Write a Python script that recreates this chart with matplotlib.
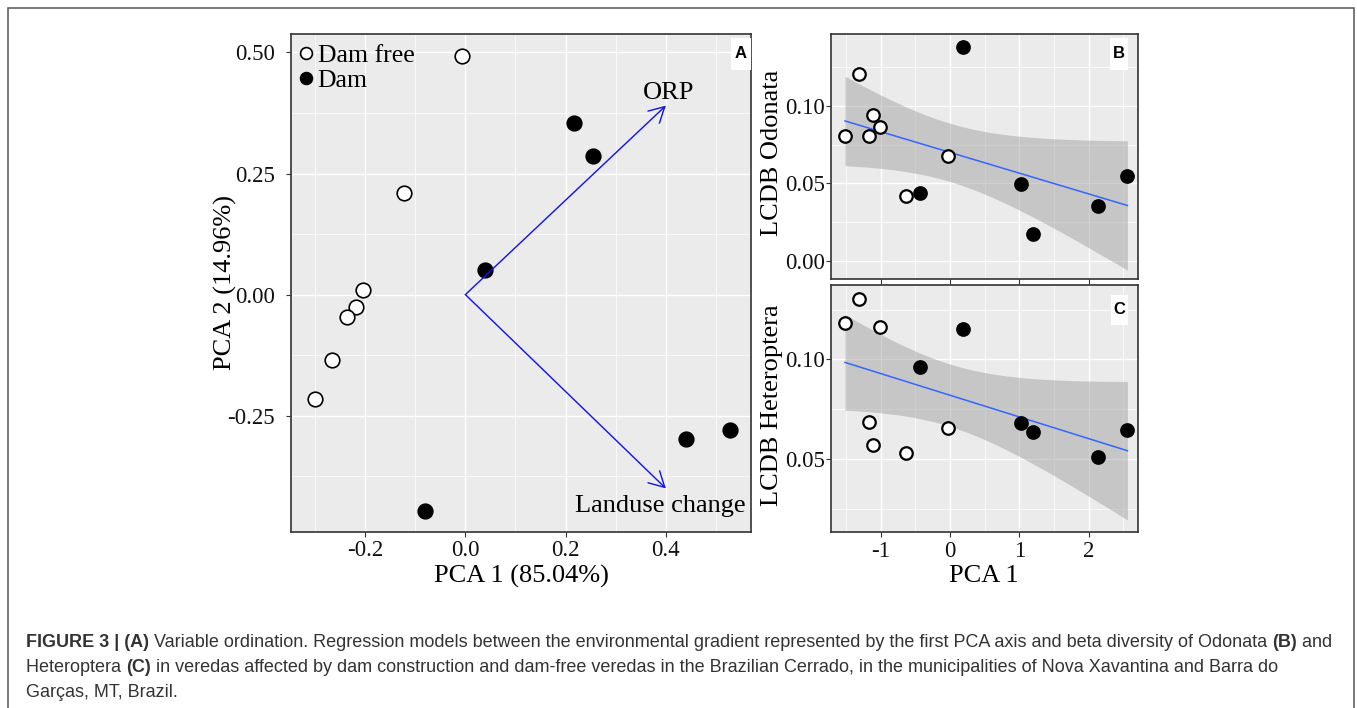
import numpy as np
import matplotlib
matplotlib.use('Agg')
import matplotlib.pyplot as plt
from matplotlib.patches import Rectangle
from matplotlib.lines import Line2D

plt.rcParams['font.family'] = ['Liberation Serif', 'DejaVu Serif']
plt.rcParams['axes.unicode_minus'] = False

# ---- panel A: PCA scores of the sites and the two variable vectors
a_free_x = [-0.006, -0.122, -0.205, -0.218, -0.236, -0.267, -0.301]
a_free_y = [0.493, 0.2105, 0.010, -0.026, -0.047, -0.134, -0.216]
a_dam_x = [0.0385, 0.217, 0.255, 0.441, 0.529, -0.081]
a_dam_y = [0.051, 0.355, 0.286, -0.299, -0.280, -0.447]
vec_names = ['ORP', 'Landuse change']
vec_x = [0.4, 0.4]
vec_y = [0.39, -0.40]

# ---- panels B and C: PCA 1 vs LCDB
free_pca1 = [-1.515, -1.306, -1.166, -1.116, -1.005, -0.632, -0.034]
dam_pca1 = [-0.433, 0.183, 1.025, 1.200, 2.130, 2.560]
odo_free = [0.0806, 0.1205, 0.0806, 0.0940, 0.0866, 0.0420, 0.0679]
odo_dam = [0.0436, 0.1383, 0.0498, 0.0173, 0.0354, 0.0549]
het_free = [0.1180, 0.1302, 0.0686, 0.0569, 0.1163, 0.0532, 0.0657]
het_dam = [0.0963, 0.1150, 0.0682, 0.0634, 0.0509, 0.0645]

W, H = 1357, 708
fig = plt.figure(figsize=(W / 100, H / 100), dpi=100)


def box(l, t, r, b):
    # pixel box -> figure fraction rect
    return [l / W, 1 - b / H, (r - l) / W, (b - t) / H]


def ggstyle(ax):
    ax.set_facecolor('#EBEBEB')
    ax.grid(True, which='major', color='white', lw=1.0)
    ax.grid(True, which='minor', color='white', lw=0.5)
    ax.set_axisbelow(True)
    for s in ax.spines.values():
        s.set_color('#333333')
        s.set_linewidth(1.2)
    ax.tick_params(which='minor', length=0)
    ax.tick_params(which='major', colors='#333333', labelcolor='#111111',
                   length=3.5, width=0.8)


def lm_band(x, y, t=2.201):
    # ordinary least squares fit with 95% confidence band (df = n - 2)
    x = np.asarray(x)
    y = np.asarray(y)
    b1, b0 = np.polyfit(x, y, 1)
    s = np.sqrt(np.sum((y - b0 - b1 * x) ** 2) / (len(x) - 2))
    xx = np.linspace(x.min(), x.max(), 100)
    se = s * np.sqrt(1 / len(x) + (xx - x.mean()) ** 2 / np.sum((x - x.mean()) ** 2))
    fit = b0 + b1 * xx
    return xx, fit, fit - t * se, fit + t * se


def panel_tag(ax, letter, x0, y0, x1, y1):
    ax.add_patch(Rectangle((x0, y0), x1 - x0, y1 - y0, transform=ax.transAxes,
                           fc='white', ec='none', zorder=5, clip_on=False))
    ax.text((x0 + x1) / 2, (y0 + y1) / 2, letter, transform=ax.transAxes,
            ha='center', va='center', fontsize=12, fontweight='bold',
            family='Liberation Sans', zorder=6)


# ---------------- A
axA = fig.add_axes(box(291, 34, 751, 532))
ggstyle(axA)
axA.set_xlim(-0.348, 0.570)
axA.set_ylim(-0.490, 0.538)
axA.set_xticks([-0.2, 0.0, 0.2, 0.4], ['-0.2', '0.0', '0.2', '0.4'])
axA.set_xticks([-0.3, -0.1, 0.1, 0.3, 0.5], minor=True)
axA.set_yticks([-0.25, 0.0, 0.25, 0.5], ['-0.25', '0.00', '0.25', '0.50'])
axA.set_yticks([-0.375, -0.125, 0.125, 0.375], minor=True)
axA.tick_params(axis='both', which='major', labelsize=16.5)
axA.tick_params(axis='y', pad=8)
axA.tick_params(axis='x', pad=2)

axA.plot(a_free_x, a_free_y, 'o', ms=10.5, mfc='white', mec='black', mew=1.2,
         ls='none', zorder=3)
axA.plot(a_dam_x, a_dam_y, 'o', ms=10.5, mfc='black', mec='black', mew=1.2,
         ls='none', zorder=3)
for name, vx, vy in zip(vec_names, vec_x, vec_y):
    axA.annotate('', xy=(vx, vy), xytext=(0, 0),
                 arrowprops=dict(arrowstyle='->,head_length=0.55,head_width=0.3',
                                 color='#1010EE', lw=1.0, mutation_scale=20,
                                 shrinkA=0, shrinkB=0))
axA.text(vec_x[0] + 0.005, vec_y[0] + 0.026, vec_names[0], ha='center', va='center',
         fontsize=19)
axA.text(vec_x[1] - 0.011, vec_y[1] - 0.036, vec_names[1], ha='center', va='center',
         fontsize=19)

handles = [Line2D([], [], marker='o', ls='none', ms=8.5, mfc='white', mec='black', mew=1.2),
           Line2D([], [], marker='o', ls='none', ms=8.5, mfc='black', mec='black', mew=1.2)]
axA.legend(handles, ['Dam free', 'Dam'], loc='upper left', bbox_to_anchor=(0.016, 0.979),
           frameon=False, fontsize=18.5, handlelength=0.6, handletextpad=0.15,
           borderpad=0, borderaxespad=0, labelspacing=0.07)
panel_tag(axA, 'A', 0.9565, 0.928, 1.0, 0.992)

fig.text(225 / W, 1 - 283 / H, 'PCA 2 (14.96%)', rotation=90, ha='center',
         va='center', fontsize=19)
fig.text(521 / W, 1 - 576 / H, 'PCA 1 (85.04%)', ha='center', va='center',
         fontsize=19)

# ---------------- B and C
axB = fig.add_axes(box(831, 34, 1138, 279))
axC = fig.add_axes(box(831, 285, 1138, 532))
panels = [(axB, odo_free, odo_dam, (-0.0118, 0.1465), [0.0, 0.05, 0.10],
           ['0.00', '0.05', '0.10'], [0.025, 0.075, 0.125]),
          (axC, het_free, het_dam, (0.0134, 0.1373), [0.05, 0.10],
           ['0.05', '0.10'], [0.025, 0.075, 0.125])]
for ax, yf, yd, ylim, yt, ytl, ymin in panels:
    ggstyle(ax)
    xs = free_pca1 + dam_pca1
    xx, fit, lo, hi = lm_band(xs, yf + yd)
    ax.fill_between(xx, lo, hi, color='#999999', alpha=0.45, lw=0, zorder=1)
    ax.plot(xx, fit, color='#3366FF', lw=1.1, zorder=2)
    ax.plot(free_pca1, yf, 'o', ms=9, mfc='white', mec='black', mew=1.6, zorder=3)
    ax.plot(dam_pca1, yd, 'o', ms=9, mfc='black', mec='black', mew=1.6, zorder=3)
    ax.set_xlim(-1.717, 2.713)
    ax.set_ylim(*ylim)
    ax.set_xticks([-1, 0, 1, 2], ['-1', '0', '1', '2'])
    ax.set_xticks([-1.5, -0.5, 0.5, 1.5, 2.5], minor=True)
    ax.set_yticks(yt, ytl)
    ax.set_yticks(ymin, minor=True)
    ax.tick_params(axis='both', which='major', labelsize=16.5)
    ax.tick_params(axis='y', pad=0.8)
    ax.tick_params(axis='x', pad=3)

axB.tick_params(axis='x', labelbottom=False)
panel_tag(axB, 'B', 0.909, 0.853, 0.967, 0.984)
panel_tag(axC, 'C', 0.911, 0.838, 0.968, 0.960)

fig.text(771.7 / W, 1 - 153 / H, 'LCDB Odonata', rotation=90, ha='center',
         va='center', fontsize=19)
fig.text(771.7 / W, 1 - 405 / H, 'LCDB Heteroptera', rotation=90, ha='center',
         va='center', fontsize=19)
fig.text(984 / W, 1 - 576 / H, 'PCA 1', ha='center', va='center', fontsize=19)

# ---------------- outer frame
fig.patches.append(Rectangle((8 / W, -0.05), (1353.5 - 8) / W, 1.05 - 8 / H,
                             transform=fig.transFigure, fill=False,
                             ec='#555555', lw=1.1))

# ---------------- caption with bold runs
cap_props = dict(fontsize=13, family=['Liberation Sans', 'DejaVu Sans'], color='#333333')
renderer = fig.canvas.get_renderer()


def text_width(s, bold):
    t = fig.text(0, 0, s, fontweight='bold' if bold else 'normal', **cap_props)
    w = t.get_window_extent(renderer).width
    t.remove()
    return w


def caption_line(runs, x_px, y_px):
    x = x_px
    for s, bold in runs:
        fig.text(x / W, 1 - y_px / H, s, ha='left', va='baseline',
                 fontweight='bold' if bold else 'normal', **cap_props)
        x += text_width('|' + s + '|', bold) - text_width('||', bold)


caption = [
    [('FIGURE 3 | (A)', True),
     (' Variable ordination. Regression models between the environmental gradient '
      'represented by the first PCA axis and beta diversity of Odonata ', False),
     ('(B)', True), (' and', False)],
    [('Heteroptera ', False), ('(C)', True),
     (' in veredas affected by dam construction and dam-free veredas in the Brazilian '
      'Cerrado, in the municipalities of Nova Xavantina and Barra do', False)],
    [('Garças, MT, Brazil.', False)],
]
for i, runs in enumerate(caption):
    caption_line(runs, 26, 647 + 25 * i)

fig.savefig('out.png', dpi=100)
